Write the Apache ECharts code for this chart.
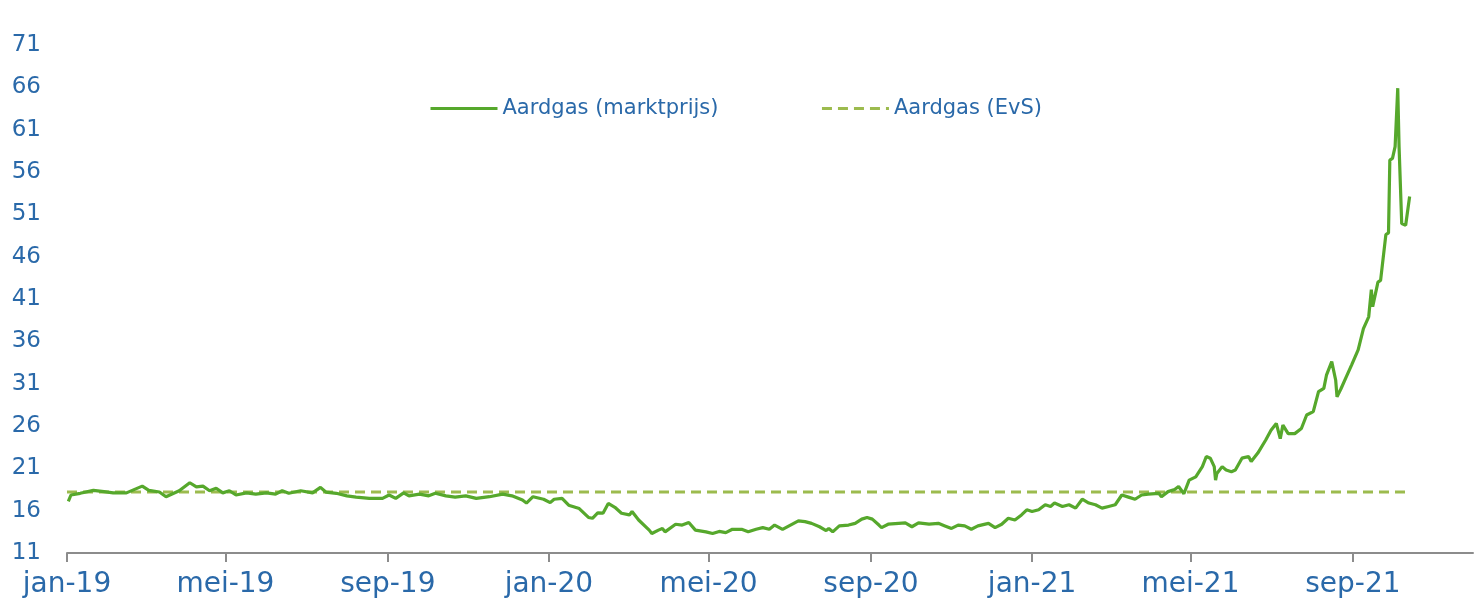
<!DOCTYPE html>
<html><head><meta charset="utf-8">
<script src="https://cdn.jsdelivr.net/npm/echarts@6/dist/echarts.min.js"></script>
<style>html,body{margin:0;padding:0;background:#fff}#c{width:1477px;height:609px}</style>
</head><body><div id="c"></div>
<script>
// ---- data ----
const axisStart = '2019-01-01';
const axisEnd = '2021-12-01';
const monthNames = ['jan','feb','mrt','apr','mei','jun','jul','aug','sep','okt','nov','dec'];
const tickMonths = [1, 5, 9];
const yTickLabels = [11, 16, 21, 26, 31, 36, 41, 46, 51, 56, 61, 66, 71];

const marketDates = [
'2019-01-02','2019-01-04','2019-01-11','2019-01-21','2019-01-29','2019-02-05','2019-02-15','2019-02-27','2019-03-04','2019-03-12',
'2019-03-17','2019-03-22','2019-03-27','2019-04-04','2019-04-09','2019-04-14','2019-04-19','2019-04-24','2019-04-29','2019-05-04',
'2019-05-09','2019-05-17','2019-05-24','2019-06-01','2019-06-08','2019-06-13','2019-06-18','2019-06-27','2019-07-06','2019-07-12',
'2019-07-16','2019-07-24','2019-08-01','2019-08-08','2019-08-18','2019-08-28','2019-09-02','2019-09-07','2019-09-13','2019-09-17',
'2019-09-25','2019-10-02','2019-10-07','2019-10-15','2019-10-22','2019-10-30','2019-11-07','2019-11-17','2019-11-27','2019-12-04',
'2019-12-12','2019-12-15','2019-12-20','2019-12-28','2020-01-02','2020-01-05','2020-01-11','2020-01-16','2020-01-24','2020-01-31',
'2020-02-03','2020-02-07','2020-02-11','2020-02-15','2020-02-20','2020-02-25','2020-03-02','2020-03-04','2020-03-09','2020-03-17',
'2020-03-19','2020-03-24','2020-03-27','2020-03-29','2020-04-06','2020-04-11','2020-04-16','2020-04-21','2020-04-29','2020-05-04',
'2020-05-09','2020-05-14','2020-05-19','2020-05-26','2020-05-31','2020-06-06','2020-06-11','2020-06-16','2020-06-20','2020-06-26',
'2020-07-02','2020-07-08','2020-07-13','2020-07-18','2020-07-24','2020-07-29','2020-07-31','2020-08-03','2020-08-08','2020-08-15',
'2020-08-20','2020-08-25','2020-08-29','2020-09-02','2020-09-07','2020-09-09','2020-09-14','2020-09-22','2020-09-27','2020-10-02',
'2020-10-07','2020-10-15','2020-10-22','2020-10-27','2020-11-01','2020-11-06','2020-11-11','2020-11-16','2020-11-21','2020-11-29',
'2020-12-04','2020-12-09','2020-12-14','2020-12-19','2020-12-24','2020-12-28','2021-01-01','2021-01-06','2021-01-11','2021-01-15',
'2021-01-18','2021-01-24','2021-01-29','2021-02-03','2021-02-08','2021-02-13','2021-02-18','2021-02-23','2021-02-28','2021-03-05',
'2021-03-10','2021-03-15','2021-03-20','2021-03-25','2021-03-30','2021-04-07','2021-04-09','2021-04-14','2021-04-19','2021-04-22',
'2021-04-26','2021-04-30','2021-05-05','2021-05-10','2021-05-13','2021-05-16','2021-05-19','2021-05-20','2021-05-21','2021-05-25',
'2021-05-28','2021-06-01','2021-06-04','2021-06-09','2021-06-14','2021-06-16','2021-06-21','2021-06-27','2021-07-01','2021-07-05',
'2021-07-08','2021-07-10','2021-07-14','2021-07-19','2021-07-24','2021-07-28','2021-08-02','2021-08-06','2021-08-10','2021-08-12',
'2021-08-16','2021-08-19','2021-08-20','2021-08-23','2021-08-27','2021-08-31','2021-09-05','2021-09-09','2021-09-13','2021-09-15',
'2021-09-16','2021-09-20','2021-09-22','2021-09-26','2021-09-28','2021-09-29','2021-10-01','2021-10-03','2021-10-05','2021-10-06',
'2021-10-08','2021-10-11','2021-10-14'
];
const marketPrices = [
17.1,17.85,18.05,18.4,18.25,18.1,18.1,18.9,18.4,18.2,
17.65,18.0,18.35,19.3,18.8,18.9,18.35,18.65,18.1,18.35,
17.85,18.1,17.95,18.1,17.95,18.35,18.05,18.35,18.1,18.75,
18.2,18.05,17.75,17.6,17.45,17.45,17.85,17.45,18.1,17.75,
17.95,17.75,18.05,17.75,17.6,17.75,17.45,17.65,17.95,17.75,
17.25,16.9,17.65,17.35,16.95,17.35,17.45,16.65,16.25,15.2,
15.1,15.75,15.7,16.85,16.4,15.7,15.5,15.9,14.9,13.7,
13.3,13.7,13.9,13.5,14.4,14.3,14.6,13.7,13.5,13.3,
13.55,13.4,13.8,13.8,13.5,13.8,14.0,13.8,14.3,13.8,
14.3,14.8,14.7,14.5,14.1,13.65,13.9,13.5,14.2,14.3,
14.5,15.0,15.2,15.0,14.3,14.0,14.4,14.5,14.55,14.1,
14.55,14.4,14.5,14.2,13.9,14.3,14.2,13.8,14.2,14.5,
14.0,14.4,15.1,14.9,15.5,16.1,15.9,16.1,16.7,16.5,
16.9,16.5,16.7,16.3,17.35,16.9,16.7,16.3,16.5,16.7,
17.85,17.6,17.35,17.85,17.95,18.05,17.65,18.25,18.5,18.85,
18.0,19.6,20.0,21.2,22.4,22.2,21.2,19.6,20.4,21.2,
20.8,20.6,20.8,22.2,22.4,21.8,22.8,24.35,25.5,26.3,
24.5,26.1,25.1,25.1,25.7,27.3,27.7,30.05,30.45,32.0,
33.6,31.4,29.45,30.4,31.8,33.2,35.0,37.5,38.9,42.1,
40.1,43.0,43.2,48.6,48.8,57.4,57.6,59.0,65.9,59.0,
49.9,49.7,53.1
];
const evsDates = ['2019-01-01', '2021-10-12'];
const evsPrices = [18.2, 18.2];
const seriesNames = ['Aardgas (marktprijs)', 'Aardgas (EvS)'];

// ---- build daily category axis ----
function pad(n){return n<10?'0'+n:''+n;}
const categories = [];
{
  const s = new Date(axisStart+'T00:00:00Z'), e = new Date(axisEnd+'T00:00:00Z');
  for (let d = new Date(s); d <= e; d.setUTCDate(d.getUTCDate()+1)) {
    categories.push(d.getUTCFullYear()+'-'+pad(d.getUTCMonth()+1)+'-'+pad(d.getUTCDate()));
  }
}
function isTick(val){
  const p = val.split('-');
  return p[2]==='01' && tickMonths.indexOf(+p[1])>=0;
}
const blue = '#2a69a9';
const font = 'DejaVu Sans';

const chart = echarts.init(document.getElementById('c'), null, {renderer:'canvas'});
chart.setOption({
  backgroundColor:'#ffffff',
  animation:false,
  grid:{left:67, right:4, top:45, bottom:56, containLabel:false},
  legend:{
    left:424, top:93, itemWidth:67, itemHeight:14, itemGap:102, selectedMode:false,
    itemStyle:{opacity:0, borderWidth:0},
    lineStyle:{width:3},
    textStyle:{color:blue, fontSize:21, fontFamily:font},
    data:seriesNames
  },
  xAxis:{
    type:'category', data:categories, boundaryGap:false,
    axisLine:{lineStyle:{color:'#8c8c8c', width:2}},
    axisTick:{show:true, inside:false, length:9, lineStyle:{color:'#8c8c8c', width:2},
      interval:(i,v)=>isTick(v)},
    axisLabel:{color:blue, fontSize:28, fontFamily:font, margin:18,
      interval:(i,v)=>isTick(v),
      formatter:(v)=>{const p=v.split('-');return monthNames[+p[1]-1]+'-'+p[0].slice(2);}},
    splitLine:{show:false}
  },
  yAxis:{
    type:'value', min:yTickLabels[0], max:yTickLabels[yTickLabels.length-1], interval:1,
    axisLine:{show:false}, axisTick:{show:false}, splitLine:{show:false},
    axisLabel:{color:blue, fontSize:23, fontFamily:font, margin:26,
      formatter:(v)=> yTickLabels.indexOf(Math.round(v))>=0 ? String(Math.round(v)) : ''}
  },
  series:[
    {name:seriesNames[0], type:'line', symbol:'none', showSymbol:false,
     data:marketDates.map((d,i)=>[d, marketPrices[i]]),
     lineStyle:{color:'#56a82c', width:3.2}, itemStyle:{color:'#56a82c'}, z:3},
    {name:seriesNames[1], type:'line', symbol:'none', showSymbol:false,
     data:evsDates.map((d,i)=>[d, evsPrices[i]]),
     lineStyle:{color:'#9cbb4e', width:3, type:[10,6]}, itemStyle:{color:'#9cbb4e'}, z:2}
  ]
});
</script></body></html>
